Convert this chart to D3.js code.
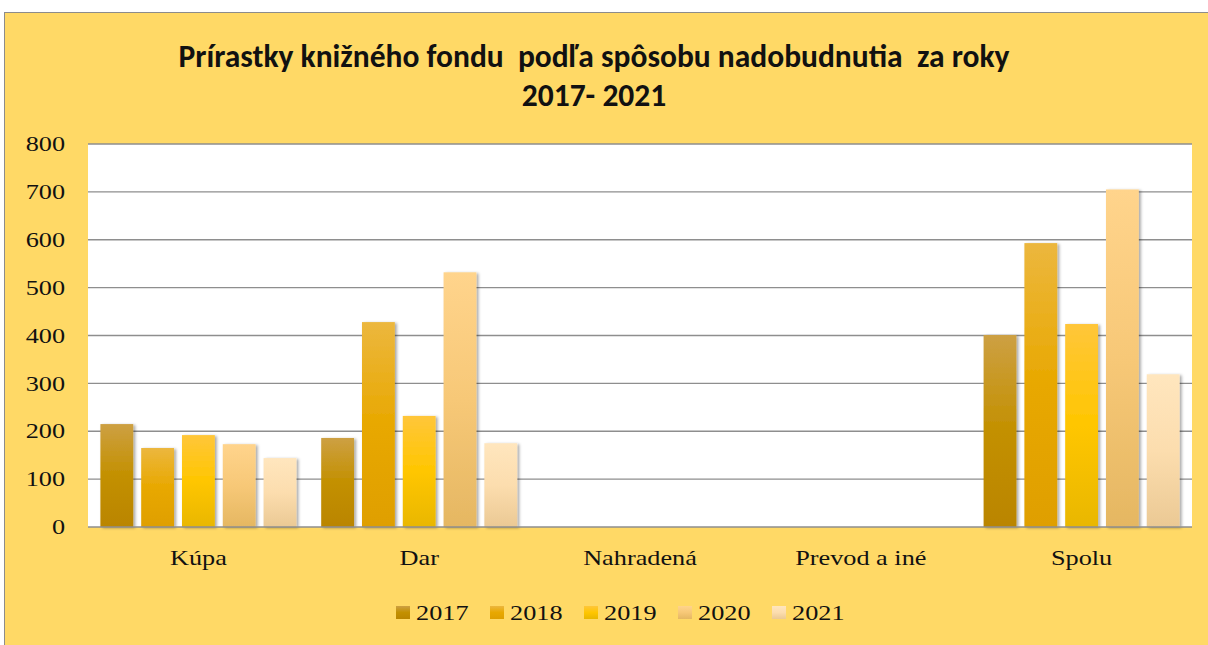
<!DOCTYPE html>
<html><head><meta charset="utf-8">
<script src="https://cdn.jsdelivr.net/npm/d3@7"></script>
<style>html,body{margin:0;padding:0;background:#fff}svg{display:block}</style>
</head><body>
<script>
const categories = ["Kúpa", "Dar", "Nahradená", "Prevod a iné", "Spolu"];
const years = ["2017", "2018", "2019", "2020", "2021"];
const v2017 = [215, 186, 0, 0, 401];
const v2018 = [165, 428, 0, 0, 593];
const v2019 = [192, 232, 0, 0, 424];
const v2020 = [173, 532, 0, 0, 705];
const v2021 = [144, 175, 0, 0, 319];
const yTicks = [0, 100, 200, 300, 400, 500, 600, 700, 800];
const titleLines = ["Prírastky knižného fondu  podľa spôsobu nadobudnutia  za roky", "2017- 2021"];

const series = [v2017, v2018, v2019, v2020, v2021];
const grads = [
  ["#CDA043", "#C39000", "#BA8500"],
  ["#ECB73E", "#E8A800", "#DF9F00"],
  ["#FFC63A", "#FFC600", "#E9B700"],
  ["#FFD48C", "#F7C877", "#E5B762"],
  ["#FFE6BE", "#FCDDAE", "#EBC994"]
];
const SERIF = "'Liberation Serif','Times New Roman',serif";
const STRETCH = 1.25;
function stretch(sel) {
  sel.each(function() {
    const n = this.getComputedTextLength();
    d3.select(this).attr("textLength", n * STRETCH).attr("lengthAdjust", "spacingAndGlyphs");
  });
}

const W = 1208, H = 645;
const svg = d3.select("body").append("svg").attr("width", W).attr("height", H);
const defs = svg.append("defs");
grads.forEach((g, i) => {
  const lg = defs.append("linearGradient").attr("id", "g" + i).attr("x1", 0).attr("y1", 0).attr("x2", 0).attr("y2", 1);
  lg.append("stop").attr("offset", "0%").attr("stop-color", g[0]);
  lg.append("stop").attr("offset", "50%").attr("stop-color", g[1]);
  lg.append("stop").attr("offset", "100%").attr("stop-color", g[2]);
});
const f = defs.append("filter").attr("id", "sh").attr("x", "-20%").attr("y", "-5%").attr("width", "150%").attr("height", "115%");
f.append("feDropShadow").attr("dx", 2).attr("dy", 1).attr("stdDeviation", 1.8).attr("flood-color", "#000").attr("flood-opacity", 0.35);

// frame
svg.append("rect").attr("x", 4).attr("y", 12).attr("width", W - 4).attr("height", H - 12).attr("fill", "#FFD966");
svg.append("line").attr("x1", 4).attr("x2", W).attr("y1", 12.5).attr("y2", 12.5).attr("stroke", "#8c8c8c").attr("stroke-width", 1);
svg.append("line").attr("x1", 4.5).attr("x2", 4.5).attr("y1", 12).attr("y2", H).attr("stroke", "#8c8c8c").attr("stroke-width", 1);

const L = 88, R = 1192, T = 144, B = 527;
svg.append("rect").attr("x", L).attr("y", T).attr("width", R - L).attr("height", B - T).attr("fill", "#fff");

const x0 = d3.scaleBand().domain(categories).range([L, R]).paddingInner(0).paddingOuter(0);
const x1 = d3.scaleBand().domain(years).range([12.4, x0.bandwidth() - 12.4]).paddingInner(0.195).paddingOuter(0);
const y = d3.scaleLinear().domain([0, 800]).range([B, T]);

// grid
svg.append("g").selectAll("line").data(yTicks.filter(d => d > 0)).join("line")
  .attr("x1", L).attr("x2", R).attr("y1", d => y(d)).attr("y2", d => y(d))
  .attr("stroke", "#8e8e8e").attr("stroke-width", 1.3);

// y labels
const yAxis = svg.append("g").attr("transform", `translate(${L},0)`)
  .call(d3.axisLeft(y).tickValues(yTicks).tickSize(0).tickPadding(23));
yAxis.select(".domain").remove();
yAxis.selectAll("text").attr("font-family", SERIF).attr("font-size", 21).attr("fill", "#111").call(stretch);

// bars
series.forEach((vals, si) => {
  svg.append("g").selectAll("rect").data(vals.map((v, ci) => ({v, c: categories[ci]})).filter(d => d.v > 0)).join("rect")
    .attr("x", d => x0(d.c) + x1(years[si]))
    .attr("width", x1.bandwidth())
    .attr("y", d => y(d.v))
    .attr("height", d => y(0) - y(d.v))
    .attr("fill", `url(#g${si})`)
    .attr("filter", "url(#sh)");
});

// baseline
svg.append("line").attr("x1", L).attr("x2", R).attr("y1", B).attr("y2", B).attr("stroke", "#8e8e8e").attr("stroke-width", 1.5);

// category labels
const xAxis = svg.append("g").attr("transform", `translate(0,${B})`)
  .call(d3.axisBottom(x0).tickSize(0).tickPadding(23));
xAxis.select(".domain").remove();
xAxis.selectAll("text").attr("font-family", SERIF).attr("font-size", 21).attr("fill", "#111").call(stretch);

// title
svg.append("g").selectAll("text").data(titleLines).join("text")
  .attr("x", 594).attr("y", (d, i) => 67 + i * 39)
  .attr("text-anchor", "middle")
  .attr("font-family", "Carlito, 'DejaVu Sans Condensed', 'Open Sans', sans-serif")
  .attr("font-weight", "bold")
  .attr("font-size", 31.5).attr("fill", "#111")
  .attr("xml:space", "preserve")
  .text(d => d);

// legend
const lg = svg.append("g").selectAll("g").data(years).join("g")
  .attr("transform", (d, i) => `translate(${396 + i * 94},606)`);
lg.append("rect").attr("width", 14).attr("height", 13).attr("fill", (d, i) => `url(#g${i})`);
lg.append("text").attr("x", 20).attr("y", 14)
  .attr("font-family", SERIF).attr("font-size", 21).attr("fill", "#111")
  .text(d => d).call(stretch);
</script>
</body></html>
